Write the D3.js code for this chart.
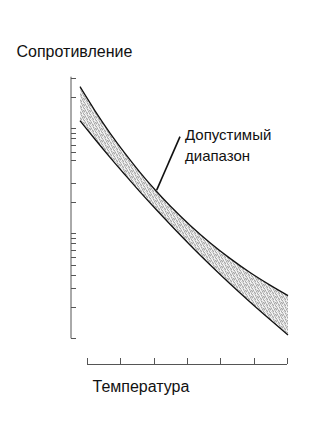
<!DOCTYPE html>
<html>
<head>
<meta charset="utf-8">
<script src="https://cdn.jsdelivr.net/npm/d3@7"></script>
<style>
  html, body { margin: 0; padding: 0; background: #fff; }
  svg { display: block; }
  text { font-family: "Liberation Sans", Arial, sans-serif; fill: #111; }
</style>
</head>
<body>
<svg id="chart" width="332" height="444"></svg>
<script>
// ---- data ----
const temperature = [-0.21, 0.24, 0.69, 1.14, 1.59, 2.04, 2.49, 3.09, 3.69, 4.29, 4.89, 5.49, 6.03];
const upperResistance = [249, 146.8, 90.2, 57.7, 38.1, 26.0, 18.3, 11.95, 8.14, 5.77, 4.23, 3.21, 2.55];
const lowerResistance = [118.1, 78.6, 52.9, 36.1, 24.8, 17.3, 12.2, 7.75, 5.02, 3.31, 2.22, 1.51, 1.075];
const xTicks = [0, 1, 2, 3, 4, 5, 6];
const yTicks = [1, 2, 3, 4, 5, 6, 7, 8, 9, 10, 20, 30, 50, 60, 70, 80, 90, 100, 200, 300];
const yAxisTop = 310;
const yLabel = "Сопротивление";
const xLabel = "Температура";
const bandLabel = ["Допустимый", "диапазон"];
const pointerFrom = [2.09, 25.8];   // on the upper edge of the band
const pointerTo = [2.79, 83.2];

// ---- layout ----
const svg = d3.select("#chart");
const x = d3.scaleLinear().domain([0, 6]).range([87, 287]);
const y = d3.scaleLog().domain([1, 1000]).range([338.3, 23.3]);
const axisX = 71, xAxisY = 364;

// stipple pattern for band
const defs = svg.append("defs");
const pat = defs.append("pattern").attr("id", "stip").attr("patternUnits", "userSpaceOnUse")
  .attr("width", 6).attr("height", 6);
pat.append("rect").attr("width", 6).attr("height", 6).attr("fill", "#d4d4d4");
const dark = [[0,0],[3,1],[1,2],[4,3],[2,4],[5,5],[0,3],[3,5],[5,2]];
const light = [[1,0],[4,0],[2,1],[5,1],[0,5],[3,3],[1,4],[4,5],[2,2]];
dark.forEach(p => pat.append("rect").attr("x", p[0]).attr("y", p[1]).attr("width", 1).attr("height", 1).attr("fill", "#a9a9a9"));
light.forEach(p => pat.append("rect").attr("x", p[0]).attr("y", p[1]).attr("width", 1).attr("height", 1).attr("fill", "#f6f6f6"));

const band = temperature.map((t, i) => ({ t, hi: upperResistance[i], lo: lowerResistance[i] }));

svg.append("path").datum(band)
  .attr("d", d3.area().curve(d3.curveMonotoneX)
    .x(d => x(d.t)).y0(d => y(d.lo)).y1(d => y(d.hi)))
  .attr("fill", "url(#stip)").attr("stroke", "none");

const edge = key => d3.line().curve(d3.curveMonotoneX).x(d => x(d.t)).y(d => y(d[key]));
svg.append("path").datum(band).attr("d", edge("hi"))
  .attr("fill", "none").attr("stroke", "#111").attr("stroke-width", 1.3);
svg.append("path").datum(band).attr("d", edge("lo"))
  .attr("fill", "none").attr("stroke", "#111").attr("stroke-width", 1.3);

// y axis
svg.append("line").attr("x1", axisX).attr("x2", axisX)
  .attr("y1", y(1)).attr("y2", y(yAxisTop))
  .attr("stroke", "#555").attr("stroke-width", 1);
svg.selectAll(".yt").data(yTicks).join("line").attr("class", "yt")
  .attr("x1", axisX).attr("x2", axisX + 5)
  .attr("y1", d => Math.round(y(d)) + 0.5).attr("y2", d => Math.round(y(d)) + 0.5)
  .attr("stroke", "#555").attr("stroke-width", 1);

// x axis
svg.append("line").attr("x1", x(0)).attr("x2", x(6))
  .attr("y1", xAxisY + 0.5).attr("y2", xAxisY + 0.5)
  .attr("stroke", "#555").attr("stroke-width", 1);
svg.selectAll(".xt").data(xTicks).join("line").attr("class", "xt")
  .attr("x1", d => Math.round(x(d)) + 0.5).attr("x2", d => Math.round(x(d)) + 0.5)
  .attr("y1", xAxisY - 6).attr("y2", xAxisY)
  .attr("stroke", "#555").attr("stroke-width", 1);

// pointer
svg.append("line")
  .attr("x1", x(pointerFrom[0])).attr("y1", y(pointerFrom[1]))
  .attr("x2", x(pointerTo[0])).attr("y2", y(pointerTo[1]))
  .attr("stroke", "#111").attr("stroke-width", 1.6);

// labels
svg.append("text").attr("x", 16.5).attr("y", 56.5).attr("font-size", 16).text(yLabel);
svg.append("text").attr("x", 92.5).attr("y", 392).attr("font-size", 16).text(xLabel);
svg.selectAll(".bl").data(bandLabel).join("text").attr("class", "bl")
  .attr("x", 185).attr("y", (d, i) => 140 + i * 21).attr("font-size", 15).text(d => d);
</script>
</body>
</html>
